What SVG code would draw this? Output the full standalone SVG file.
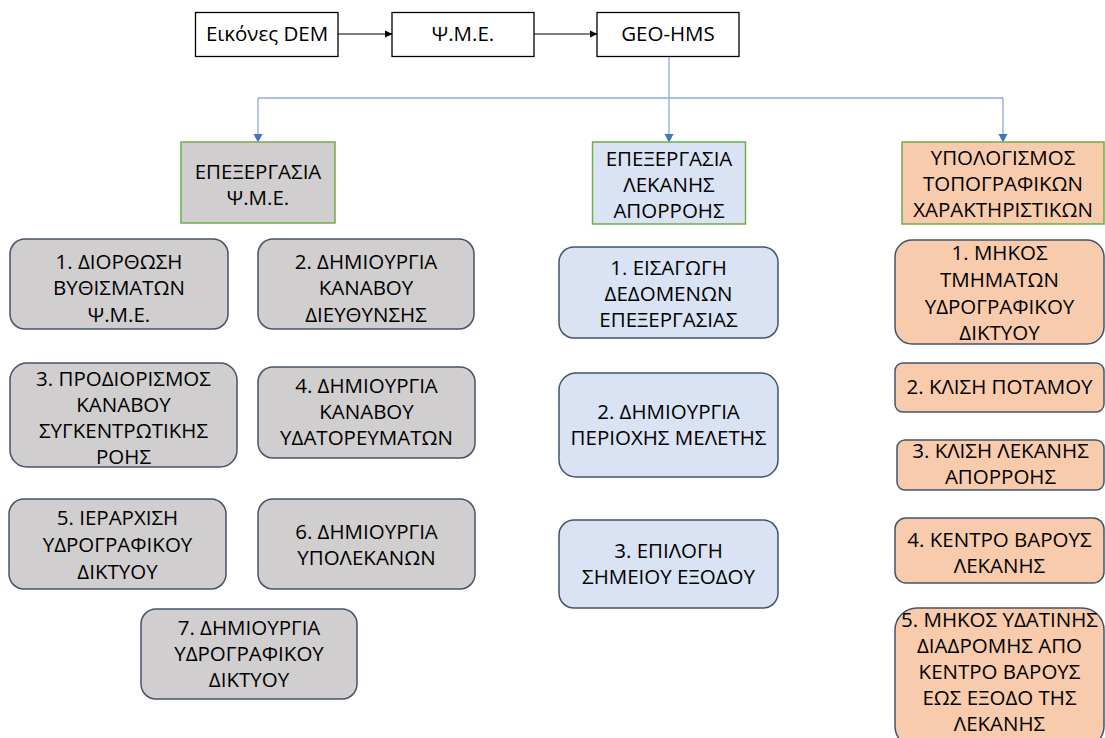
<svg xmlns="http://www.w3.org/2000/svg" width="1105" height="738" viewBox="0 0 1105 738">
<style>
text{font-family:"Open Sans","Noto Sans","DejaVu Sans",sans-serif;font-size:20.5px;fill:#000;text-anchor:middle}
.top{fill:#fff;stroke:#000;stroke-width:1.3}
.hd{stroke:#70ad47;stroke-width:1.5}
.box{stroke:#44546a;stroke-width:1.5}
.g{fill:#d0cece}
.b{fill:#dae3f3}
.o{fill:#f8cbad}
.blk{stroke:#000;stroke-width:1;fill:none}
.blu{stroke:#8eaadb;stroke-width:1.3;fill:none}
</style>
<defs>
<marker id="ab" markerWidth="8" markerHeight="8" refX="7" refY="4" orient="auto" markerUnits="userSpaceOnUse"><path d="M0,0.5 L7.5,4 L0,7.5 z" fill="#000"/></marker>
<marker id="au" markerWidth="10" markerHeight="10" refX="8" refY="5" orient="auto" markerUnits="userSpaceOnUse"><path d="M0,0.5 L8.5,5 L0,9.5 z" fill="#4472c4"/></marker>
</defs>
<g id="connectors">
<path class="blk" d="M338,34 L392,34" marker-end="url(#ab)"/>
<path class="blk" d="M534,34 L597,34" marker-end="url(#ab)"/>
<path class="blu" d="M669,56 L669,142" marker-end="url(#au)"/>
<path class="blu" d="M258,98 L1003,98"/>
<path class="blu" d="M258,98 L258,142" marker-end="url(#au)"/>
<path class="blu" d="M1003,98 L1003,142" marker-end="url(#au)"/>
</g>
<g id="dem"><rect class="top" x="195.5" y="12.5" width="142.5" height="44"/><text x="267" y="41">Εικόνες DEM</text></g>
<g id="pme"><rect class="top" x="392" y="12.5" width="142" height="44"/><text x="463" y="41">Ψ.Μ.Ε.</text></g>
<g id="geohms"><rect class="top" x="597" y="12.5" width="142" height="44"/><text x="668" y="41">GEO-HMS</text></g>

<g id="h1"><rect class="hd g" x="181" y="142" width="154" height="81"/><text x="258" y="179">ΕΠΕΞΕΡΓΑΣΙΑ</text><text x="258" y="205">Ψ.Μ.Ε.</text></g>
<g id="h2"><rect class="hd b" x="592.5" y="142" width="153" height="82"/><text x="669" y="166">ΕΠΕΞΕΡΓΑΣΙΑ</text><text x="669" y="192">ΛΕΚΑΝΗΣ</text><text x="669" y="218">ΑΠΟΡΡΟΗΣ</text></g>
<g id="h3"><rect class="hd o" x="902" y="142" width="202" height="82"/><text x="1003" y="165">ΥΠΟΛΟΓΙΣΜΟΣ</text><text x="1003" y="191">ΤΟΠΟΓΡΑΦΙΚΩΝ</text><text x="1003" y="217">ΧΑΡΑΚΤΗΡΙΣΤΙΚΩΝ</text></g>

<g id="l1"><rect class="box g" x="10" y="239" width="218" height="90" rx="15"/><text x="119" y="269">1. ΔΙΟΡΘΩΣΗ</text><text x="119" y="295">ΒΥΘΙΣΜΑΤΩΝ</text><text x="119" y="322">Ψ.Μ.Ε.</text></g>
<g id="l2"><rect class="box g" x="258" y="239" width="216" height="90" rx="15"/><text x="366" y="269">2. ΔΗΜΙΟΥΡΓΙΑ</text><text x="366" y="295">ΚΑΝΑΒΟΥ</text><text x="366" y="322">ΔΙΕΥΘΥΝΣΗΣ</text></g>
<g id="l3"><rect class="box g" x="10" y="363" width="227" height="104" rx="17"/><text x="123.5" y="386">3. ΠΡΟΔΙΟΡΙΣΜΟΣ</text><text x="123.5" y="412">ΚΑΝΑΒΟΥ</text><text x="123.5" y="438">ΣΥΓΚΕΝΤΡΩΤΙΚΗΣ</text><text x="123.5" y="464">ΡΟΗΣ</text></g>
<g id="l4"><rect class="box g" x="258" y="367" width="217" height="91" rx="15"/><text x="366.5" y="393">4. ΔΗΜΙΟΥΡΓΙΑ</text><text x="366.5" y="419">ΚΑΝΑΒΟΥ</text><text x="366.5" y="445">ΥΔΑΤΟΡΕΥΜΑΤΩΝ</text></g>
<g id="l5"><rect class="box g" x="9" y="499" width="217" height="90" rx="15"/><text x="117.5" y="525">5. ΙΕΡΑΡΧΙΣΗ</text><text x="117.5" y="552">ΥΔΡΟΓΡΑΦΙΚΟΥ</text><text x="117.5" y="579">ΔΙΚΤΥΟΥ</text></g>
<g id="l6"><rect class="box g" x="258" y="499" width="217" height="90" rx="15"/><text x="366.5" y="539">6. ΔΗΜΙΟΥΡΓΙΑ</text><text x="366.5" y="565">ΥΠΟΛΕΚΑΝΩΝ</text></g>
<g id="l7"><rect class="box g" x="141" y="609" width="216" height="90" rx="15"/><text x="249" y="635">7. ΔΗΜΙΟΥΡΓΙΑ</text><text x="249" y="661">ΥΔΡΟΓΡΑΦΙΚΟΥ</text><text x="249" y="687">ΔΙΚΤΥΟΥ</text></g>

<g id="m1"><rect class="box b" x="559" y="247" width="219" height="91" rx="15"/><text x="668.5" y="275">1. ΕΙΣΑΓΩΓΗ</text><text x="668.5" y="301">ΔΕΔΟΜΕΝΩΝ</text><text x="668.5" y="327">ΕΠΕΞΕΡΓΑΣΙΑΣ</text></g>
<g id="m2"><rect class="box b" x="559" y="373" width="219" height="104" rx="17"/><text x="668.5" y="419">2. ΔΗΜΙΟΥΡΓΙΑ</text><text x="668.5" y="445">ΠΕΡΙΟΧΗΣ ΜΕΛΕΤΗΣ</text></g>
<g id="m3"><rect class="box b" x="559" y="520" width="219" height="88" rx="15"/><text x="668.5" y="558">3. ΕΠΙΛΟΓΗ</text><text x="668.5" y="584">ΣΗΜΕΙΟΥ ΕΞΟΔΟΥ</text></g>

<g id="r1"><rect class="box o" x="895" y="240" width="209" height="104" rx="17"/><text x="999.5" y="260">1. ΜΗΚΟΣ</text><text x="999.5" y="287">ΤΜΗΜΑΤΩΝ</text><text x="999.5" y="314">ΥΔΡΟΓΡΑΦΙΚΟΥ</text><text x="999.5" y="340">ΔΙΚΤΥΟΥ</text></g>
<g id="r2"><rect class="box o" x="895" y="363" width="209" height="49" rx="8"/><text x="999.5" y="394">2. ΚΛΙΣΗ ΠΟΤΑΜΟΥ</text></g>
<g id="r3"><rect class="box o" x="897" y="440" width="207" height="50" rx="8"/><text x="1000.5" y="458">3. ΚΛΙΣΗ ΛΕΚΑΝΗΣ</text><text x="1000.5" y="484">ΑΠΟΡΡΟΗΣ</text></g>
<g id="r4"><rect class="box o" x="895" y="518" width="209" height="65" rx="11"/><text x="999.5" y="547">4. ΚΕΝΤΡΟ ΒΑΡΟΥΣ</text><text x="999.5" y="573">ΛΕΚΑΝΗΣ</text></g>
<g id="r5"><rect class="box o" x="895" y="608" width="209" height="140" rx="22"/><text x="999.5" y="627">5. ΜΗΚΟΣ ΥΔΑΤΙΝΗΣ</text><text x="999.5" y="653">ΔΙΑΔΡΟΜΗΣ ΑΠΟ</text><text x="999.5" y="679">ΚΕΝΤΡΟ ΒΑΡΟΥΣ</text><text x="999.5" y="705">ΕΩΣ ΕΞΟΔΟ ΤΗΣ</text><text x="999.5" y="731">ΛΕΚΑΝΗΣ</text></g>
</svg>
